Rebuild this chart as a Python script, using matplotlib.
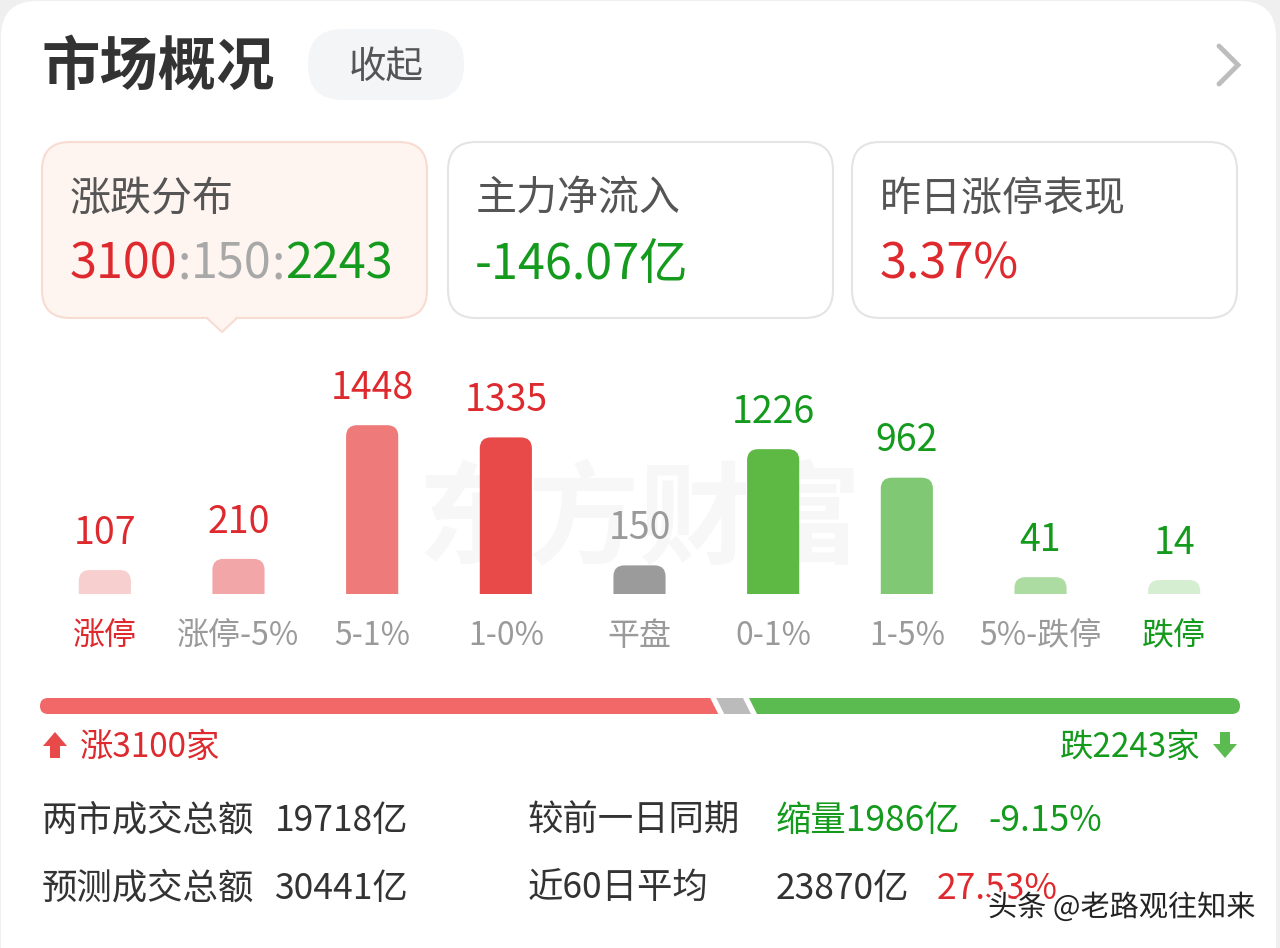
import matplotlib.pyplot as plt
import numpy as np
from matplotlib.patches import FancyBboxPatch, Polygon
import matplotlib.patheffects as pe

plt.rcParams['font.family'] = ['Noto Sans CJK SC', 'DejaVu Sans']

# distribution data
categories = ['涨停', '涨停-5%', '5-1%', '1-0%', '平盘', '0-1%', '1-5%', '5%-跌停', '跌停']
counts = [107, 210, 1448, 1335, 150, 1226, 962, 41, 14]
bar_colors = ['#F8CFCF', '#F2A6A8', '#EE7A7A', '#E84A4A', '#9B9B9B',
              '#5DB944', '#80C873', '#ADDCA3', '#D5EDD0']
up_total, flat_total, down_total = 3100, 150, 2243

# header cards
card_titles = ['涨跌分布', '主力净流入', '昨日涨停表现']
net_inflow = '-146.07亿'
yesterday_limit = '3.37%'

# turnover stats
stat_labels = ['两市成交总额', '预测成交总额']
stat_values = ['19718亿', '30441亿']
cmp_labels = ['较前一日同期', '近60日平均']
cmp_values = ['缩量1986亿', '23870亿']
cmp_pcts = ['-9.15%', '27.53%']

RED = '#DE2A2E'
GREEN = '#149A1C'
GRAY = '#9A9A9A'
DARK = '#333333'

fig = plt.figure(figsize=(12.8, 9.48), dpi=100, facecolor='#EFEFEF')
bg = fig.add_axes([0, 0, 1, 1])
bg.set_xlim(0, 1280)
bg.set_ylim(948, 0)
bg.axis('off')

# white page card
bg.add_patch(FancyBboxPatch((1, 1), 1275, 1100, boxstyle='round,pad=0,rounding_size=36',
                            fc='white', ec='none', zorder=0))

# title row
bg.text(42, 68, '市场概况', fontsize=42, fontweight='bold', color=DARK, va='center', ha='left')
bg.add_patch(FancyBboxPatch((308, 29), 156, 71, boxstyle='round,pad=0,rounding_size=35',
                            fc='#F4F5F7', ec='none'))
bg.text(386, 67, '收起', fontsize=27, color='#555555', va='center', ha='center')
bg.plot([1219, 1238, 1219], [46, 65, 84], color='#BDBDBD', lw=3.5, solid_capstyle='round',
        solid_joinstyle='miter')

# three cards
card_x = [42, 448, 852]
for i, cx in enumerate(card_x):
    if i == 0:
        fc, ec = '#FEF4F0', '#F8DCD2'
    else:
        fc, ec = 'white', '#E4E4E4'
    bg.add_patch(FancyBboxPatch((cx, 142), 385, 176, boxstyle='round,pad=0,rounding_size=28',
                                fc=fc, ec=ec, lw=1.5, zorder=2))
    bg.text(cx + 28, 199, card_titles[i], fontsize=29.5, color='#555555', va='center', ha='left', zorder=3)
# pointer under first card
bg.add_patch(Polygon([[207, 316], [222, 332], [237, 316]], closed=True, fc='#FEF4F0', ec='none', zorder=3))
bg.plot([207, 222, 237], [318, 332, 318], color='#F8DCD2', lw=1.5, zorder=3)

# ratio text in first card
parts = [(str(up_total), RED), (':', '#A8A8A8'), (str(flat_total), '#A8A8A8'), (':', '#A8A8A8'),
         (str(down_total), GREEN)]
t = bg.text(70, 265, parts[0][0], fontsize=35, color=parts[0][1], va='center', ha='left', zorder=4)
for txt, col in parts[1:]:
    t = bg.annotate(txt, xycoords=t, xy=(1, 0), va='bottom', ha='left', fontsize=35, color=col, zorder=4)
bg.text(475, 265, net_inflow, fontsize=35, color=GREEN, va='center', ha='left', zorder=4)
bg.text(880, 265, yesterday_limit, fontsize=35, color=RED, va='center', ha='left', zorder=4)

# watermark
bg.text(640, 522, '东方财富', fontsize=80, fontweight='bold', color='#F7F7F7',
        va='center', ha='center', zorder=1)

# bar chart
FLOOR = 115  # minimum stub so tiny counts stay visible
n = len(counts)
ax = fig.add_axes([38 / 1280, (948 - 594) / 948, 1203 / 1280, 234 / 948])
ax.set_xlim(-0.5, n - 0.5)
ax.set_ylim(-FLOOR, -FLOOR + 234 / 0.108)
ax.axis('off')
ax.patch.set_visible(False)
xpos = np.arange(n)
bars = ax.bar(xpos, np.array(counts) + FLOOR, bottom=-FLOOR, width=0.39, color=bar_colors)
x_per_px = n / 1203
y_per_px = (234 / 0.108) / 234
for rect, col in zip(bars, bar_colors):
    rect.set_visible(False)
    x0, w = rect.get_x(), rect.get_width()
    top = rect.get_y() + rect.get_height()
    extra = 40 * y_per_px
    ax.add_patch(FancyBboxPatch((x0, rect.get_y() - extra), w, top - rect.get_y() + extra,
                                boxstyle='round,pad=0,rounding_size=%f' % (11 * x_per_px),
                                mutation_aspect=y_per_px / x_per_px, fc=col, ec='none', clip_on=True))

for i, v in enumerate(counts):
    col = RED if i < 4 else (GRAY if i == 4 else GREEN)
    ax.annotate(str(v), (i, v), xytext=(0, 19), textcoords='offset points', ha='center',
                va='baseline', fontsize=27, color=col, annotation_clip=False)
    lcol = RED if i == 0 else (GREEN if i == n - 1 else GRAY)
    ax.annotate(categories[i], (i, -FLOOR), xytext=(0, -30), textcoords='offset points',
                ha='center', va='center', fontsize=23, color=lcol, annotation_clip=False)

# up/down proportion bar
total = up_total + flat_total + down_total
bx0, bw, by0, bh = 40, 1200, 698, 16
gap, slant = 6, 8
clip = FancyBboxPatch((bx0, by0), bw, bh, boxstyle='round,pad=0,rounding_size=8',
                      fc='none', ec='none', transform=bg.transData)
bg.add_patch(clip)
edges = np.cumsum([0, up_total, flat_total, down_total]) / total * bw + bx0
seg_cols = ['#F26868', '#BBBBBB', '#5CBB50']
for k in range(3):
    a, b = edges[k], edges[k + 1]
    la_t = a + gap / 2 - slant / 2 if k > 0 else a - 20
    la_b = a + gap / 2 + slant / 2 if k > 0 else a - 20
    rb_t = b - gap / 2 - slant / 2 if k < 2 else b + 20
    rb_b = b - gap / 2 + slant / 2 if k < 2 else b + 20
    poly = Polygon([[la_t, by0], [rb_t, by0], [rb_b, by0 + bh], [la_b, by0 + bh]], closed=True,
                   fc=seg_cols[k], ec='none', zorder=3)
    bg.add_patch(poly)
    poly.set_clip_path(clip)

# arrows + counts
bg.add_patch(Polygon([[43, 746], [55, 732], [67, 746], [60, 746], [60, 758], [50, 758], [50, 746]],
                     closed=True, fc='#E84A4A', ec='none'))
bg.text(80, 747, '涨%d家' % up_total, fontsize=24, color=RED, va='center', ha='left')
bg.add_patch(Polygon([[1213, 744], [1225, 758], [1237, 744], [1230, 744], [1230, 732], [1220, 732],
                      [1220, 744]], closed=True, fc='#5CBB50', ec='none'))
bg.text(1200, 747, '跌%d家' % down_total, fontsize=24, color=GREEN, va='center', ha='right')

# stats rows
row_y = [821, 889]
for r in range(2):
    y = row_y[r]
    bg.text(42, y, stat_labels[r], fontsize=25.5, color=DARK, va='center', ha='left')
    bg.text(275, y, stat_values[r], fontsize=25.5, color=DARK, va='center', ha='left')
    bg.text(528, y, cmp_labels[r], fontsize=25.5, color=DARK, va='center', ha='left')
    bg.text(776, y, cmp_values[r], fontsize=25.5, color=GREEN if r == 0 else DARK, va='center', ha='left')
    bg.text(988 if r == 0 else 937, y, cmp_pcts[r], fontsize=25.5, color=GREEN if r == 0 else RED,
            va='center', ha='left')

bg.text(1255, 908, '头条 @老路观往知来', fontsize=21, color='#222222', va='center', ha='right', zorder=6,
        path_effects=[pe.withStroke(linewidth=4, foreground='white')])

fig.savefig('out.png', dpi=100, facecolor=fig.get_facecolor())
